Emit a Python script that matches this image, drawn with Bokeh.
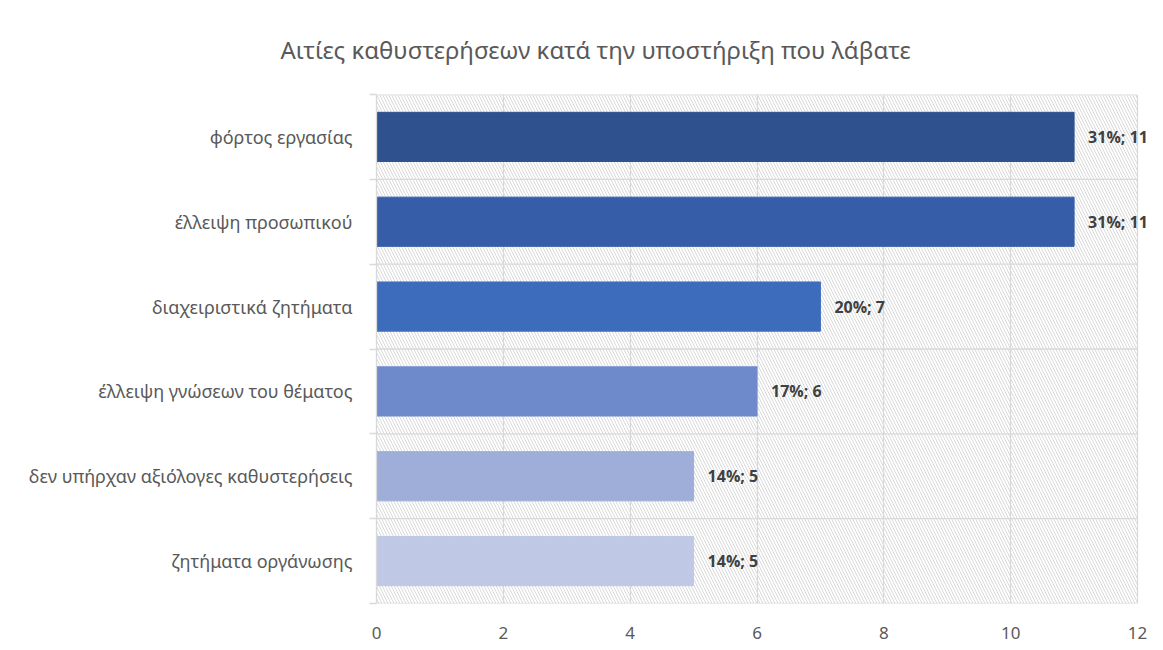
from bokeh.plotting import figure
from bokeh.models import (ColumnDataSource, FixedTicker, BoxAnnotation, LabelSet)
from bokeh.core.properties import value
from bokeh.embed import file_html
from bokeh.resources import INLINE

categories = ["φόρτος εργασίας", "έλλειψη προσωπικού", "διαχειριστικά ζητήματα",
              "έλλειψη γνώσεων του θέματος", "δεν υπήρχαν αξιόλογες καθυστερήσεις",
              "ζητήματα οργάνωσης"]
counts = [11, 11, 7, 6, 5, 5]
percents = ["31%", "31%", "20%", "17%", "14%", "14%"]
colors = ["#2F528F", "#365EA8", "#3E6CBD", "#6F8ACB", "#9EAED9", "#BFC9E5"]
x_ticks = [0, 2, 4, 6, 8, 10, 12]
title_text = "Αιτίες καθυστερήσεων κατά την υποστήριξη που λάβατε"

n = len(categories)
ypos = [n - i - 0.5 for i in range(n)]
bounds = list(range(n + 1))
labels = [f"{p}; {c}" for p, c in zip(percents, counts)]
src = ColumnDataSource(dict(y=ypos, right=counts, color=colors, label=labels))

W, H = 1163, 650
BL, BT, BB = 376, 94, 47
axis_px = 761                 # pixel length of the 0..12 axis
extra_px = W - BL - axis_px   # room right of the axis for the data labels
xmax = x_ticks[-1]
x_end = xmax * (1 + extra_px / axis_px)

p = figure(width=W, height=H, output_backend="svg", toolbar_location=None,
           x_range=(0, x_end), y_range=(0, n),
           min_border_left=BL, min_border_right=0, min_border_top=BT, min_border_bottom=BB)
p.outline_line_color = None
p.background_fill_color = "white"
p.border_fill_color = "white"

p.title.text = title_text
p.title.align = "left"
p.title.offset = -96
p.title.text_font = "Noto Sans"
p.title.text_font_size = "24px"
p.title.text_font_style = "normal"
p.title.text_color = "#595959"
p.title.standoff = 58

hatch = BoxAnnotation(left=0, right=xmax, fill_alpha=0, line_alpha=0,
                      hatch_pattern="left_diagonal_line",
                      hatch_color="#d9d9d9", hatch_scale=6, hatch_weight=1, level="underlay")
p.add_layout(hatch)

# category separators
p.segment(x0=[0] * len(bounds), x1=[xmax] * len(bounds), y0=bounds, y1=bounds,
          line_color="#d9d9d9", line_width=1.3, level="underlay")

p.hbar(y="y", right="right", left=0, height=0.58, color="color", source=src)

p.add_layout(LabelSet(x="right", y="y", text="label", source=src, x_offset=14,
                      text_baseline="middle", text_font=value("Open Sans"),
                      text_font_style="bold", text_font_size="16px", text_color="#404040"))

p.xaxis.ticker = FixedTicker(ticks=x_ticks)
p.xaxis.major_tick_line_color = None
p.xaxis.minor_tick_line_color = None
p.xaxis.axis_line_color = None
p.xaxis.major_label_standoff = 17
p.xaxis.major_label_text_font = "Noto Sans"
p.xaxis.major_label_text_font_size = "17px"
p.xaxis.major_label_text_color = "#595959"

p.yaxis.ticker = FixedTicker(ticks=ypos, minor_ticks=bounds)
p.yaxis.major_label_overrides = {y: c for y, c in zip(ypos, categories)}
p.yaxis.major_tick_line_color = None
p.yaxis.minor_tick_line_color = "#d9d9d9"
p.yaxis.minor_tick_line_width = 1.3
p.yaxis.minor_tick_in = 0
p.yaxis.minor_tick_out = 7
p.yaxis.axis_line_color = "#d9d9d9"
p.yaxis.axis_line_width = 1.3
p.yaxis.major_label_standoff = 17
p.yaxis.major_label_text_font = "Noto Sans"
p.yaxis.major_label_text_font_size = "18px"
p.yaxis.major_label_text_color = "#595959"

p.xgrid.grid_line_color = "#d9d9d9"
p.xgrid.grid_line_width = 1.3
p.ygrid.grid_line_color = None

open("out.html", "w").write(file_html(p, INLINE))
